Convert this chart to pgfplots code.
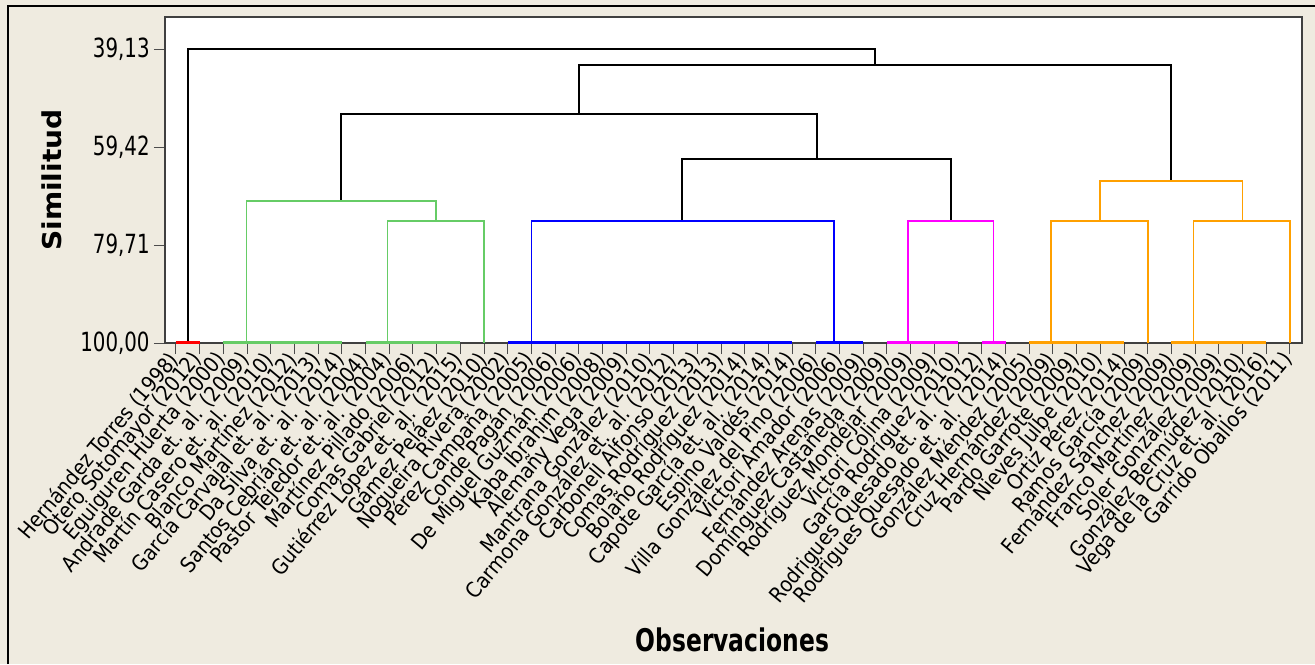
\documentclass[border=0pt]{standalone}
\usepackage{pgfplots}
\pgfplotsset{compat=1.18}
\usepackage{fontspec}
\setmainfont{DejaVu Sans Condensed}
\definecolor{bgbeige}{RGB}{239,235,224}
\definecolor{cgreen}{RGB}{102,204,102}
\definecolor{corange}{RGB}{255,160,0}
\definecolor{cmag}{RGB}{255,0,255}
\definecolor{cblue}{RGB}{0,0,255}
\definecolor{cred}{RGB}{255,0,0}
\begin{document}
\begin{tikzpicture}
\useasboundingbox (0,0) rectangle (657.5pt,-332pt);
\fill[bgbeige] (0,0) rectangle (657.5pt,-332pt);
\draw[black, line width=1pt] (3.75pt,-332pt) -- (3.75pt,-2.75pt) -- (657.5pt,-2.75pt);
\begin{axis}[
  at={(82.5pt,-171.5pt)}, anchor=south west,
  scale only axis, width=568.5pt, height=163pt,
  xmin=0.54, xmax=48.51, ymin=32.5, ymax=100, y dir=reverse,
  axis background/.style={fill=white},
  axis line style={black!75, line width=0.6pt},
  tick align=outside, tick pos=left,
  major tick length=5.5pt,
  tick style={black!70, line width=0.5pt},
  xtick={1,...,48},
  xticklabels={Hernández Torres (1998),Otero Sotomayor (2012),Eguiguren Huerta (2000),Andrade Garda et. al. (2009),Martín Casero et. al. (2010),Blanco Martínez (2012),García Carvajal et. al. (2013),Da Silva et. al. (2014),Santos Cebrián et. al. (2004),Pastor Tejedor et. al. (2004),Martínez Pillado (2006),Comas Gabriel (2012),Gutiérrez López et. al. (2015),Gámez Peláez (2010),Nogueira Rivera (2002),Pérez Campaña (2005),Conde Pagán (2006),De Miguel Guzmán (2006),Kaba Ibrahim (2008),Alemañy Vega (2009),Mantrana González (2010),Carmona González et. al. (2012),Carbonell Alfonso (2013),Comas Rodríguez (2013),Bolaño Rodríguez (2014),Capote García et. al. (2014),Espino Valdés (2014),Villa González del Pino (2006),Victori Amador (2006),Fernández Arenas (2009),Domínguez Castañeda (2009),Rodríguez Mondéjar (2009),Victori Colina (2009),García Rodríguez (2010),Rodrigues Quesado et. al. (2012),Rodrigues Quesado et. al. (2014),González Méndez (2005),Cruz Hernández (2009),Pardo Garrote (2009),Nieves Julbe (2010),Ortiz Pérez (2014),Ramos García (2009),Fernández Sánchez (2009),Franco Martínez (2009),Soler González (2009),González Bermúdez (2010),Vega de la Cruz et. al. (2016),Garrido Oballos (2011)},
  xticklabel style={font=\fontsize{10.6}{11}\selectfont, rotate=50, anchor=east, inner sep=1pt},
  ytick={39.13,59.42,79.71,100},
  yticklabels={{\scalebox{1}[1.2]{39,13}},{\scalebox{1}[1.2]{59,42}},{\scalebox{1}[1.2]{79,71}},{\scalebox{1}[1.2]{100,00}}},
  yticklabel style={font=\fontsize{11}{11}\selectfont, inner sep=2pt},
  xlabel={\scalebox{1}[1.2]{Observaciones}},
  xlabel style={font=\bfseries\fontsize{13}{13}\selectfont, at={(axis description cs:0.499,-0.911)}, anchor=center},
  ylabel={\scalebox{1.2}[1]{Similitud}},
  ylabel style={font=\bfseries\fontsize{13}{13}\selectfont, at={(axis description cs:-0.0994,0.5)}, anchor=center, rotate=0},
]
% black links
\addplot[black, line width=1pt] coordinates {(1.52,100) (1.52,39.13) (30.49,39.13) (30.49,42.44)};
\addplot[black, line width=1pt] coordinates {(18,52.51) (18,42.44) (42.97,42.44) (42.97,66.43)};
\addplot[black, line width=1pt] coordinates {(7.97,70.63) (7.97,52.51) (28.03,52.51) (28.03,61.82)};
\addplot[black, line width=1pt] coordinates {(22.37,74.7) (22.37,61.82) (33.69,61.82) (33.69,74.7)};
% green cluster
\addplot[cgreen, line width=0.9pt] coordinates {(3.98,100) (3.98,70.63) (11.97,70.63) (11.97,74.7)};
\addplot[cgreen, line width=0.9pt] coordinates {(9.93,100) (9.93,74.7) (14,74.7) (14,100)};
% blue cluster
\addplot[cblue, line width=0.9pt] coordinates {(16,100) (16,74.7) (28.75,74.7) (28.75,100)};
% magenta cluster
\addplot[cmag, line width=0.9pt] coordinates {(31.89,100) (31.89,74.7) (35.49,74.7) (35.49,100)};
% orange cluster
\addplot[corange, line width=0.9pt] coordinates {(40,74.7) (40,66.43) (46,66.43) (46,74.7)};
\addplot[corange, line width=0.9pt] coordinates {(37.91,100) (37.91,74.7) (42,74.7) (42,100)};
\addplot[corange, line width=0.9pt] coordinates {(43.93,100) (43.93,74.7) (48,74.7) (48,100)};
% zero-distance groups
\addplot[cred, line width=2.2pt] coordinates {(1,100) (2,100)};
\addplot[cgreen, line width=2.2pt] coordinates {(3,100) (8,100)};
\addplot[cgreen, line width=2.2pt] coordinates {(9,100) (13,100)};
\addplot[cblue, line width=2.2pt] coordinates {(15,100) (27,100)};
\addplot[cblue, line width=2.2pt] coordinates {(28,100) (30,100)};
\addplot[cmag, line width=2.2pt] coordinates {(31,100) (34,100)};
\addplot[cmag, line width=2.2pt] coordinates {(35,100) (36,100)};
\addplot[corange, line width=2.2pt] coordinates {(37,100) (41,100)};
\addplot[corange, line width=2.2pt] coordinates {(43,100) (47,100)};
\end{axis}
\end{tikzpicture}
\end{document}
